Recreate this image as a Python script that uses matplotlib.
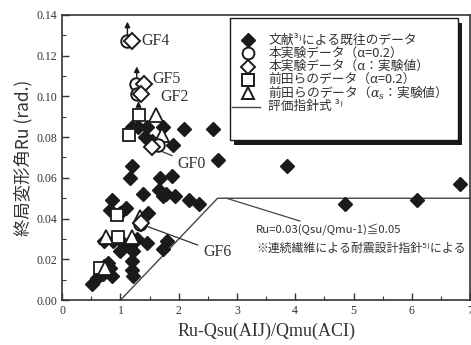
import numpy as np
import matplotlib
matplotlib.use("Agg")
import matplotlib.pyplot as plt
from matplotlib.patches import Rectangle
from matplotlib.ticker import MultipleLocator, FormatStrFormatter

plt.rcParams['font.family'] = ['Noto Sans CJK JP', 'DejaVu Sans']
plt.rcParams['mathtext.fontset'] = 'dejavuserif'

# literature data (filled diamonds)
lit_x = [1.19, 1.30, 1.45, 1.73, 2.09, 2.59, 1.42, 1.55, 1.90, 2.68,
         1.19, 1.17, 1.68, 1.88, 1.39, 1.67, 1.73, 1.79, 1.93, 2.18, 2.35,
         0.85, 0.82, 0.99, 1.10, 1.48,
         0.71, 0.88, 1.05, 0.99, 1.16, 1.22, 1.28, 1.45, 1.73, 1.80,
         1.19, 1.19, 1.22, 0.51, 0.59, 0.71, 0.70, 0.82, 0.85, 0.79,
         3.85, 4.85, 6.09, 6.82]
lit_y = [0.085, 0.085, 0.085, 0.085, 0.084, 0.084, 0.080, 0.078, 0.076, 0.069,
         0.066, 0.060, 0.060, 0.061, 0.052, 0.054, 0.051, 0.052, 0.051, 0.049, 0.047,
         0.049, 0.044, 0.043, 0.045, 0.043,
         0.029, 0.029, 0.028, 0.024, 0.026, 0.024, 0.030, 0.028, 0.025, 0.029,
         0.019, 0.015, 0.012, 0.008, 0.011, 0.017, 0.013, 0.016, 0.012, 0.018,
         0.066, 0.047, 0.049, 0.057]

# this study, alpha = 0.2 (open circles) / alpha measured (open diamonds)
specimens = ['GF4', 'GF5', 'GF2', 'GF0', 'GF6']
circ_x = [1.11, 1.27, 1.28, 1.65, 1.33]
circ_y = [0.127, 0.106, 0.101, 0.076, 0.0375]
dia_x = [1.19, 1.40, 1.36, 1.54, 1.36]
dia_y = [0.127, 0.106, 0.101, 0.075, 0.038]

# Maeda et al. alpha = 0.2 (squares) / alpha_s measured (triangles)
sq_x = [1.32, 1.15, 0.94, 0.96, 0.65]
sq_y = [0.091, 0.081, 0.042, 0.031, 0.016]
tri_x = [1.61, 1.71, 1.34, 0.76, 1.19, 0.74]
tri_y = [0.091, 0.081, 0.041, 0.031, 0.031, 0.016]

# design guideline  Ru = 0.03(Qsu/Qmu-1) <= 0.05
guide_x = [1.0, 2.667, 7.0]
guide_y = [0.0, 0.05, 0.05]

legend_labels = ['文献³⁾による既往のデータ',
                 '本実験データ（α=0.2）',
                 '本実験データ（α：実験値）',
                 '前田らのデータ（α=0.2）',
                 r'前田らのデータ（$\alpha_s$：実験値）',
                 '評価指針式 ³⁾']

ink = '#1a1a1a'
txt = '#333333'
fig = plt.figure(figsize=(4.71, 3.45), dpi=100)
ax = fig.add_axes([0.132, 0.130, 0.866, 0.827])

ax.plot(guide_x, guide_y, color='#444444', lw=1.0, zorder=1)
ax.plot(lit_x, lit_y, 'D', ms=7.5, color=ink, mec=ink, ls='none', zorder=3)
ax.plot(sq_x, sq_y, 's', ms=8.5, mfc='white', mec=ink, mew=1.3, ls='none', zorder=4)
ax.plot(tri_x, tri_y, '^', ms=9.5, mfc='white', mec=ink, mew=1.3, ls='none', zorder=4)
ax.plot(circ_x, circ_y, 'o', ms=9, mfc='white', mec=ink, mew=1.4, ls='none', zorder=5)
ax.plot(dia_x, dia_y, 'D', ms=8, mfc='white', mec=ink, mew=1.4, ls='none', zorder=5)

# arrows (values exceed the plotted point)
arr = dict(arrowstyle='-|>', color=ink, lw=1.0, mutation_scale=8)
ax.annotate('', xy=(1.12, 0.138), xytext=(1.12, 0.129), arrowprops=arr, zorder=6)
ax.annotate('', xy=(1.28, 0.116), xytext=(1.28, 0.108), arrowprops=arr, zorder=6)
ax.annotate('', xy=(1.31, 0.099), xytext=(1.31, 0.093), arrowprops=arr, zorder=6)

# specimen labels
serif = 'Liberation Serif'
gf = dict(family=serif, fontsize=11.5, va='center', color=txt)
ax.text(1.36, 0.127, 'GF4', **gf)
ax.text(1.55, 0.1085, 'GF5', **gf)
ax.text(1.68, 0.0995, 'GF2', **gf)
ax.annotate('GF0', xy=(1.62, 0.074), xytext=(1.98, 0.067), **gf,
            arrowprops=dict(arrowstyle='-', color=txt, lw=0.9, shrinkB=0))
ax.annotate('GF6', xy=(1.38, 0.037), xytext=(2.42, 0.0235), **gf,
            arrowprops=dict(arrowstyle='-', color=txt, lw=0.9, shrinkB=3))

# guideline note
ax.annotate('Ru=0.03(Qsu/Qmu-1)≦0.05', xy=(2.82, 0.05), xytext=(3.32, 0.0345),
            fontsize=8.2, va='center', color=txt,
            arrowprops=dict(arrowstyle='-', color='#444444', lw=0.9, shrinkA=0, shrinkB=0))
ax.text(3.33, 0.0255, '※連続繊維による耐震設計指針⁵⁾による', fontsize=8.6, va='center', color=txt)

# legend box with drop shadow, rows drawn by hand
ax.add_patch(Rectangle((0.422, 0.545), 0.559, 0.428, transform=ax.transAxes,
                       facecolor=ink, edgecolor='none', zorder=7))
ax.add_patch(Rectangle((0.412, 0.561), 0.559, 0.428, transform=ax.transAxes,
                       facecolor='white', edgecolor=ink, lw=1.0, zorder=8))
leg_styles = [
    dict(marker='D', ms=7, color=ink),
    dict(marker='o', ms=8.5, mfc='white', mec=ink, mew=1.4),
    dict(marker='D', ms=7.5, mfc='white', mec=ink, mew=1.4),
    dict(marker='s', ms=8, mfc='white', mec=ink, mew=1.4),
    dict(marker='^', ms=9, mfc='white', mec=ink, mew=1.4),
]
row_y0, row_dy = 0.912, 0.0468
for i, lab in enumerate(legend_labels):
    y = row_y0 - i * row_dy
    if i < len(leg_styles):
        ax.plot([0.456], [y], transform=ax.transAxes, ls='none', zorder=9,
                clip_on=False, **leg_styles[i])
    else:
        ax.plot([0.417, 0.485], [y, y], transform=ax.transAxes, color='#444444',
                lw=1.0, zorder=9)
    ax.text(0.505, y, lab, transform=ax.transAxes, fontsize=9.2, va='center',
            color=txt, zorder=9)

ax.set_xlim(0, 7)
ax.set_ylim(0, 0.14)
ax.xaxis.set_major_locator(MultipleLocator(1))
ax.xaxis.set_minor_locator(MultipleLocator(0.5))
ax.yaxis.set_major_locator(MultipleLocator(0.02))
ax.yaxis.set_minor_locator(MultipleLocator(0.01))
ax.yaxis.set_major_formatter(FormatStrFormatter('%.2f'))
ax.tick_params(which='both', direction='in', top=False, right=False, colors=txt)
ax.tick_params(which='major', length=5, width=1.0, labelsize=8.5)
ax.tick_params(which='minor', length=3, width=0.8)
for lab in ax.get_xticklabels() + ax.get_yticklabels():
    lab.set_family(serif)
for sp in ax.spines.values():
    sp.set_linewidth(1.2)
    sp.set_color(txt)

ax.set_xlabel('Ru-Qsu(AIJ)/Qmu(ACI)', family=serif, fontsize=13, color=txt, labelpad=4)
ax.set_ylabel('終局変形角Ru (rad.)', fontsize=12.5, color=txt, labelpad=3)

fig.savefig('out.png', dpi=100)
